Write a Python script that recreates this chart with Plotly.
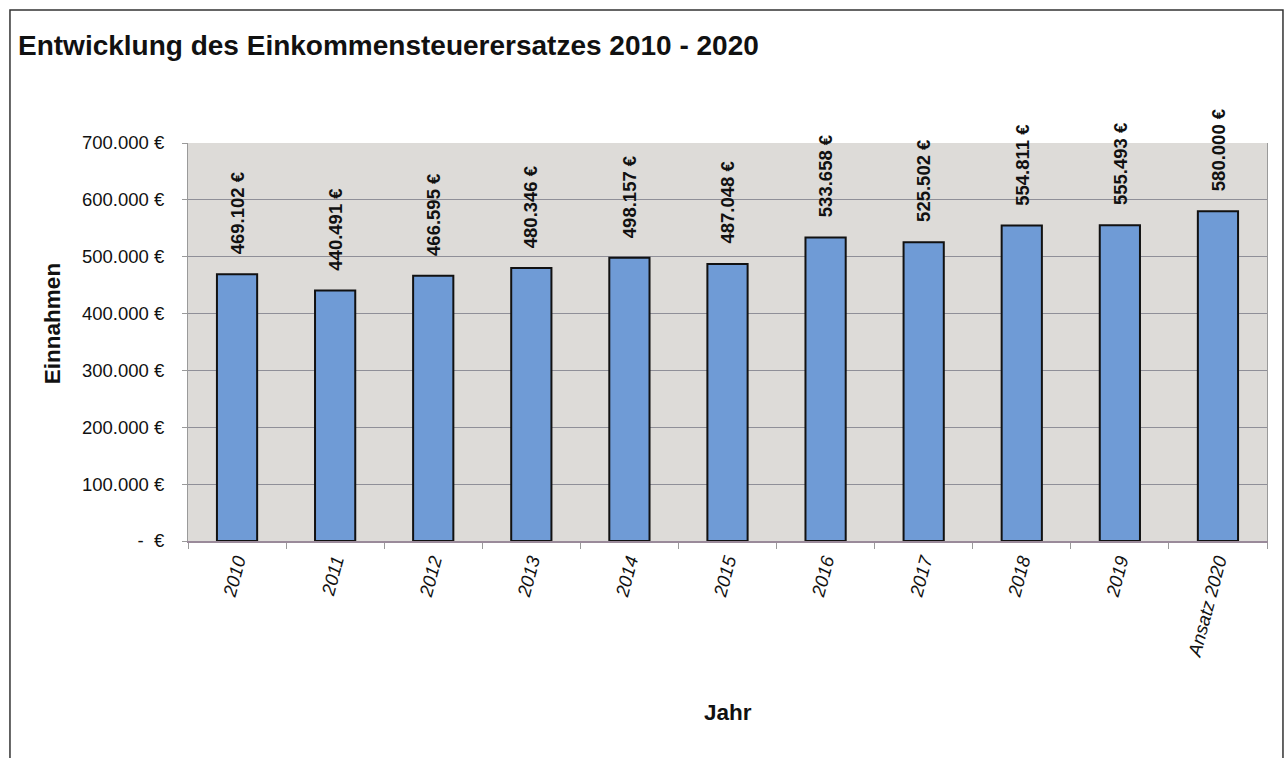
import plotly.graph_objects as go

categories = ["2010", "2011", "2012", "2013", "2014", "2015", "2016", "2017", "2018", "2019", "Ansatz 2020"]
values = [469102, 440491, 466595, 480346, 498157, 487048, 533658, 525502, 554811, 555493, 580000]
value_labels = ["469.102 €", "440.491 €", "466.595 €", "480.346 €", "498.157 €", "487.048 €",
                "533.658 €", "525.502 €", "554.811 €", "555.493 €", "580.000 €"]
ytick_vals = [0, 100000, 200000, 300000, 400000, 500000, 600000, 700000]
ytick_text = ["-  €", "100.000 €", "200.000 €", "300.000 €", "400.000 €", "500.000 €", "600.000 €", "700.000 €"]

FONT = "Liberation Sans, Arial, sans-serif"

fig = go.Figure()
fig.add_trace(go.Bar(
    x=categories, y=values, width=0.41,
    marker=dict(color="#6f9bd6", line=dict(color="#111111", width=2)),
    showlegend=False,
))

for i, (v, t) in enumerate(zip(values, value_labels)):
    fig.add_annotation(x=i, y=v, text=t, textangle=-90, showarrow=False,
                       xanchor="center", yanchor="bottom", yshift=18,
                       font=dict(family=FONT, size=18.5, color="#111111", weight="bold"))

fig.add_annotation(text="Einnahmen", xref="paper", yref="paper", x=-0.126, y=0.545,
                   textangle=-90, showarrow=False, xanchor="center", yanchor="middle",
                   font=dict(family=FONT, size=22.5, color="#111111", weight="bold"))
fig.add_annotation(text="Jahr", xref="paper", yref="paper", x=0.5, y=-0.43,
                   showarrow=False, xanchor="center", yanchor="middle",
                   font=dict(family=FONT, size=22.5, color="#111111", weight="bold"))

# outer frame
fig.add_shape(type="rect", xref="paper", yref="paper", x0=-0.165, x1=1.0148, y0=-0.6, y1=1.334,
              line=dict(color="#333333", width=1.5), fillcolor="rgba(0,0,0,0)", layer="above")

fig.update_layout(
    width=1286, height=758,
    margin=dict(l=188, r=19, t=143, b=217),
    paper_bgcolor="white", plot_bgcolor="#dddbd8",
    title=dict(text="Entwicklung des Einkommensteuerersatzes 2010 - 2020", xref="container", yref="container",
               x=18 / 1286, xanchor="left", y=1 - 45 / 758, yanchor="middle",
               font=dict(family=FONT, size=28, color="#111111", weight="bold")),
)
fig.update_yaxes(range=[0, 700000], tickvals=ytick_vals, ticktext=ytick_text,
                 showgrid=True, gridcolor="#8f8f98", gridwidth=1,
                 showline=True, linecolor="#9a9a9a", linewidth=1, mirror=True,
                 ticks="outside", ticklen=5, tickcolor="#9a9a9a", ticklabelstandoff=14,
                 zeroline=False,
                 tickfont=dict(family=FONT, size=18.5, color="#111111"))
fig.update_xaxes(type="category", range=[-0.5, len(categories) - 0.5], tickangle=-75,
                 tickson="boundaries", ticks="outside", ticklen=6, tickcolor="#9a9a9a",
                 showline=True, linecolor="#9a8a9a", linewidth=1.5,
                 tickfont=dict(family=FONT, size=18.5, color="#111111", style="italic"))

fig.write_html("out.html", config={"displayModeBar": False},
               post_script="document.body.style.margin='0';document.body.style.overflow='hidden';")
